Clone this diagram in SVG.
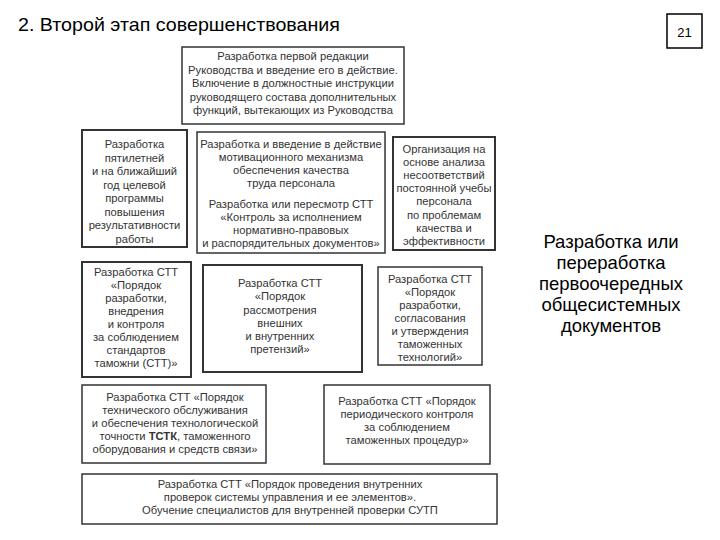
<svg xmlns="http://www.w3.org/2000/svg" width="720" height="540" viewBox="0 0 720 540">
<style>
.box{fill:#ffffff;stroke:#333333;stroke-width:1.5}
.thick{stroke-width:2}
.t{font-family:"Liberation Sans",Arial,sans-serif;font-size:11.2px;fill:#333333;text-anchor:middle}
.title{font-family:"Liberation Sans",Arial,sans-serif;font-size:19px;fill:#000}
.side{font-family:"Liberation Sans",Arial,sans-serif;font-size:18.5px;fill:#000;text-anchor:middle}
</style>
<rect width="720" height="540" fill="#ffffff"/>
<text class="title" x="18" y="31" textLength="322" lengthAdjust="spacingAndGlyphs">2. Второй этап совершенствования</text>
<g id="page">
<rect x="667" y="14" width="35" height="34" fill="#fff" stroke="#000" stroke-width="1.5"/>
<text x="684.5" y="37" font-family="Liberation Sans,Arial,sans-serif" font-size="13" text-anchor="middle">21</text>
</g>
<g id="side-label">
<text class="side" x="611" y="248">Разработка или</text>
<text class="side" x="611" y="269">переработка</text>
<text class="side" x="611" y="290">первоочередных</text>
<text class="side" x="611" y="311">общесистемных</text>
<text class="side" x="611" y="332">документов</text>
</g>
<g id="connectors"></g>
<g id="n-top">
<rect class="box" x="182" y="47" width="222" height="77"/>
<text class="t" x="293" y="60">Разработка первой редакции</text>
<text class="t" x="293" y="73.5">Руководства и введение его в действие.</text>
<text class="t" x="293" y="87">Включение в должностные инструкции</text>
<text class="t" x="293" y="100.5">руководящего состава дополнительных</text>
<text class="t" x="293" y="114">функций, вытекающих из Руководства</text>
</g>
<g id="n-program">
<rect class="box thick" x="82" y="130" width="105" height="117"/>
<text class="t" x="134.5" y="148">Разработка</text>
<text class="t" x="134.5" y="161.5">пятилетней</text>
<text class="t" x="134.5" y="175">и на ближайший</text>
<text class="t" x="134.5" y="188.5">год целевой</text>
<text class="t" x="134.5" y="202">программы</text>
<text class="t" x="134.5" y="215.5">повышения</text>
<text class="t" x="134.5" y="229">результативности</text>
<text class="t" x="134.5" y="242.5">работы</text>
</g>
<g id="n-motivation">
<rect class="box" x="197" y="132" width="188" height="121"/>
<text class="t" x="291" y="148">Разработка и введение в действие</text>
<text class="t" x="291" y="161">мотивационного механизма</text>
<text class="t" x="291" y="174">обеспечения качества</text>
<text class="t" x="291" y="187">труда персонала</text>
<text class="t" x="291" y="208">Разработка или пересмотр СТТ</text>
<text class="t" x="291" y="221">«Контроль за исполнением</text>
<text class="t" x="291" y="234">нормативно-правовых</text>
<text class="t" x="291" y="247">и распорядительных документов»</text>
</g>
<g id="n-training">
<rect class="box thick" x="393" y="137" width="102" height="113"/>
<text class="t" x="444" y="153">Организация на</text>
<text class="t" x="444" y="166">основе анализа</text>
<text class="t" x="444" y="179">несоответствий</text>
<text class="t" x="444" y="192">постоянной учебы</text>
<text class="t" x="444" y="205">персонала</text>
<text class="t" x="444" y="219">по проблемам</text>
<text class="t" x="444" y="232">качества и</text>
<text class="t" x="444" y="245">эффективности</text>
</g>
<g id="n-stt-standards">
<rect class="box thick" x="82" y="262" width="109" height="115"/>
<text class="t" x="136" y="275.5">Разработка СТТ</text>
<text class="t" x="136" y="288.5">«Порядок</text>
<text class="t" x="136" y="301.5">разработки,</text>
<text class="t" x="136" y="314.5">внедрения</text>
<text class="t" x="136" y="327.5">и контроля</text>
<text class="t" x="136" y="341">за соблюдением</text>
<text class="t" x="136" y="354">стандартов</text>
<text class="t" x="136" y="367">таможни (СТТ)»</text>
</g>
<g id="n-stt-claims">
<rect class="box thick" x="203" y="265" width="159" height="107"/>
<text class="t" x="280" y="286.5">Разработка СТТ</text>
<text class="t" x="280" y="300">«Порядок</text>
<text class="t" x="280" y="313.5">рассмотрения</text>
<text class="t" x="280" y="326.5">внешних</text>
<text class="t" x="280" y="339.5">и внутренних</text>
<text class="t" x="280" y="353">претензий»</text>
</g>
<g id="n-stt-tech">
<rect class="box" x="378" y="267" width="104" height="98"/>
<text class="t" x="430" y="283">Разработка СТТ</text>
<text class="t" x="430" y="296">«Порядок</text>
<text class="t" x="430" y="309">разработки,</text>
<text class="t" x="430" y="322">согласования</text>
<text class="t" x="430" y="335">и утверждения</text>
<text class="t" x="430" y="348">таможенных</text>
<text class="t" x="430" y="360.5">технологий»</text>
</g>
<g id="n-stt-maintenance">
<rect class="box" x="82" y="385" width="184" height="78"/>
<text class="t" x="175" y="401">Разработка СТТ «Порядок</text>
<text class="t" x="175" y="414">технического обслуживания</text>
<text class="t" x="175" y="427">и обеспечения технологической</text>
<text class="t" x="175" y="440">точности <tspan font-weight="bold">ТСТК</tspan>,  таможенного</text>
<text class="t" x="175" y="453">оборудования и средств связи»</text>
</g>
<g id="n-stt-control">
<rect class="box" x="324" y="385" width="166" height="79"/>
<text class="t" x="407" y="405">Разработка СТТ «Порядок</text>
<text class="t" x="407" y="418">периодического контроля</text>
<text class="t" x="407" y="431">за соблюдением</text>
<text class="t" x="407" y="444">таможенных процедур»</text>
</g>
<g id="n-stt-audit">
<rect class="box" x="82" y="474" width="415" height="50"/>
<text class="t" x="290" y="488">Разработка СТТ «Порядок проведения внутренних</text>
<text class="t" x="290" y="501">проверок системы управления и ее элементов».</text>
<text class="t" x="290" y="514">Обучение специалистов для внутренней проверки СУТП</text>
</g>
</svg>
